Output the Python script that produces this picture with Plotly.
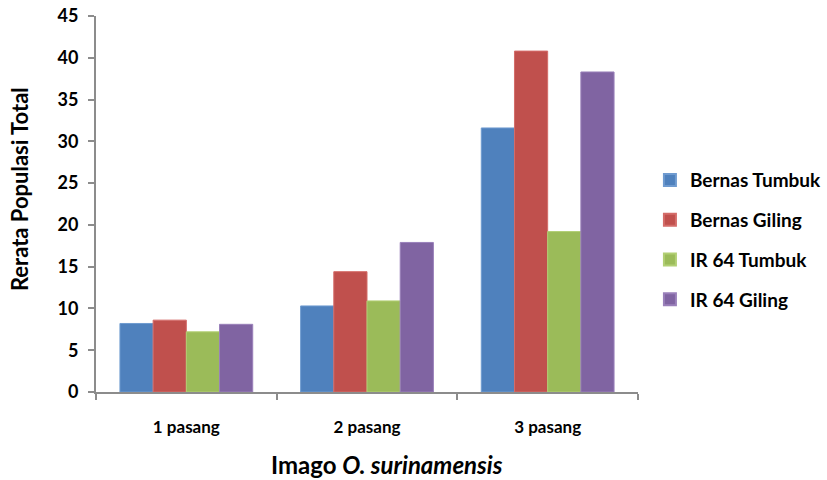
import plotly.graph_objects as go

# Mean total population by number of O. surinamensis adult pairs
categories = ["1 pasang", "2 pasang", "3 pasang"]
series_names = ["Bernas Tumbuk", "Bernas Giling", "IR 64 Tumbuk", "IR 64 Giling"]
bernas_tumbuk = [8.2, 10.3, 31.6]
bernas_giling = [8.6, 14.4, 40.8]
ir64_tumbuk = [7.2, 10.9, 19.2]
ir64_giling = [8.1, 17.9, 38.3]
y_ticks = [0, 5, 10, 15, 20, 25, 30, 35, 40, 45]

colors = ["#4F81BD", "#C0504D", "#9BBB59", "#8064A2"]
edges = ["#6F9BD0", "#D46C69", "#B2CF74", "#9A80BA"]
FONT = "Lato, Open Sans, sans-serif"

fig = go.Figure()
for i, (name, vals) in enumerate(zip(series_names,
                                     [bernas_tumbuk, bernas_giling, ir64_tumbuk, ir64_giling])):
    fig.add_trace(go.Bar(
        x=categories, y=vals, name=name,
        marker=dict(color=colors[i], line=dict(color=edges[i], width=1)),
        legendgroup=name,
    ))

fig.update_layout(
    width=827, height=480,
    margin=dict(l=96, r=189, t=16, b=88, autoexpand=False),
    paper_bgcolor="white", plot_bgcolor="white",
    barmode="group", bargap=0.265, bargroupgap=0,
    font=dict(family=FONT, color="black"),
    showlegend=True,
    legend=dict(
        x=1.022, xanchor="left", y=0.405, yanchor="middle",
        traceorder="grouped", tracegroupgap=12,
        font=dict(family=FONT, size=19, color="black", weight="bold"),
        itemsizing="constant",
    ),
    xaxis=dict(
        showline=True, linecolor="#8C8C8C", linewidth=2,
        ticks="outside", tickson="boundaries", ticklen=6, tickcolor="#8C8C8C", tickwidth=2,
        tickfont=dict(family=FONT, size=17, color="black", weight="bold"),
        ticklabelstandoff=19,
        showgrid=False,
    ),
    yaxis=dict(
        range=[0, 45], tickvals=y_ticks,
        showline=True, linecolor="#8C8C8C", linewidth=2,
        ticks="outside", ticklen=6, tickcolor="#8C8C8C", tickwidth=2,
        tickfont=dict(family=FONT, size=18, color="black", weight="bold"),
        ticklabelstandoff=6,
        showgrid=False, zeroline=False,
    ),
    annotations=[
        dict(text="Rerata Populasi Total", textangle=-90,
             xref="paper", yref="paper", x=-0.14, y=0.54,
             xanchor="center", yanchor="middle", showarrow=False,
             font=dict(family=FONT, size=22, color="black", weight="bold")),
        dict(text="Imago <i>O. surinamensis</i>",
             xref="paper", yref="paper", x=0.537, y=-0.193,
             xanchor="center", yanchor="middle", showarrow=False,
             font=dict(family=FONT, size=24, color="black", weight="bold")),
    ],
)

fig.write_html("out.html")
